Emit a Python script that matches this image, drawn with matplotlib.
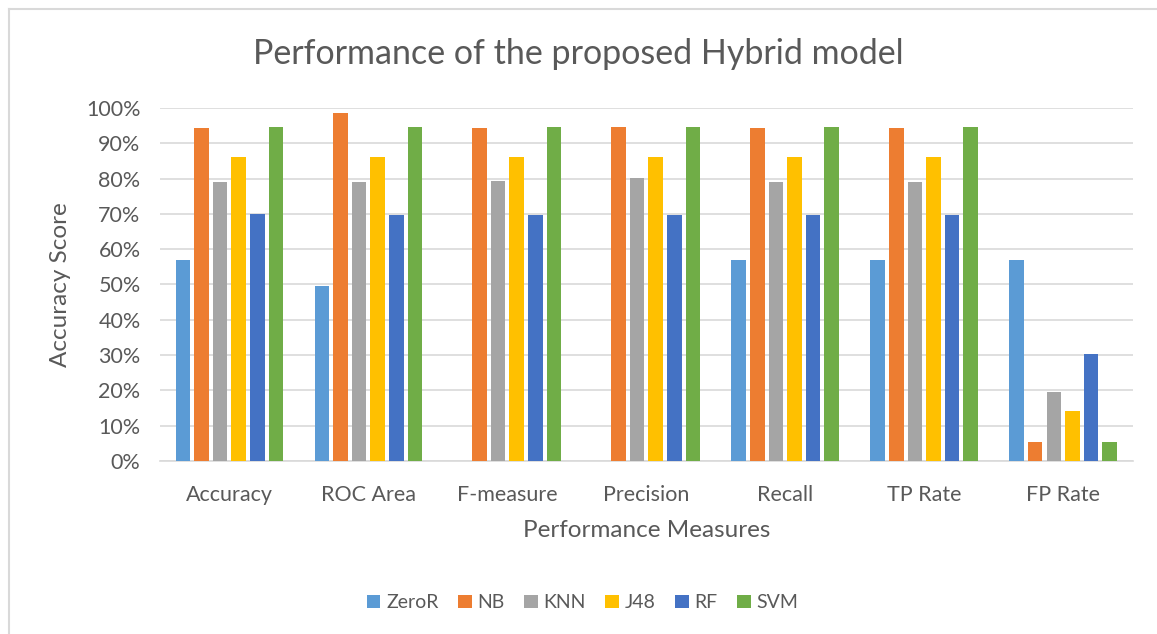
import matplotlib.pyplot as plt
import numpy as np
from matplotlib.ticker import PercentFormatter
from matplotlib.lines import Line2D

plt.rcParams['font.family'] = ['Lato', 'DejaVu Sans']

# Data (fractions)
measures = ['Accuracy', 'ROC Area', 'F-measure', 'Precision', 'Recall', 'TP Rate', 'FP Rate']
models = ['ZeroR', 'NB', 'KNN', 'J48', 'RF', 'SVM']
zeror = [0.57, 0.497, 0.0, 0.0, 0.57, 0.57, 0.57]
nb = [0.943, 0.986, 0.943, 0.946, 0.943, 0.943, 0.054]
knn = [0.791, 0.791, 0.794, 0.802, 0.791, 0.791, 0.196]
j48 = [0.86, 0.86, 0.86, 0.86, 0.86, 0.86, 0.142]
rf = [0.70, 0.697, 0.697, 0.697, 0.697, 0.697, 0.303]
svm = [0.946, 0.946, 0.946, 0.946, 0.946, 0.946, 0.054]

series = [zeror, nb, knn, j48, rf, svm]
colors = ['#5B9BD5', '#ED7D31', '#A5A5A5', '#FFC000', '#4472C4', '#70AD47']
text_col = '#595959'
grid_col = '#D9D9D9'

fig = plt.figure(figsize=(11.57, 6.34), dpi=100)
ax = fig.add_axes([0.1383, 0.2729, 0.8406, 0.5568])

x = np.arange(len(measures))
pitch = 0.134
width = 0.105
for i, (vals, name, c) in enumerate(zip(series, models, colors)):
    ax.bar(x + (i - 2.5) * pitch, vals, width, color=c, label=name, zorder=3)

ax.set_xlim(-0.5, len(measures) - 0.5)
ax.set_ylim(0, 1.0)
ax.set_yticks(np.arange(0, 1.01, 0.1))
ax.yaxis.set_major_formatter(PercentFormatter(1.0, decimals=0))
ax.set_xticks(x)
ax.set_xticklabels(measures)
ax.grid(axis='y', color=grid_col, linewidth=1.2, zorder=0)
for s in ['top', 'right', 'left']:
    ax.spines[s].set_visible(False)
ax.spines['bottom'].set_color(grid_col)
ax.spines['bottom'].set_linewidth(1.2)
ax.tick_params(axis='both', length=0, colors=text_col, labelsize=15.5)
ax.tick_params(axis='x', pad=17)
ax.tick_params(axis='y', pad=14)

ax.set_xlabel('Performance Measures', fontsize=17.5, color=text_col, labelpad=11)
ax.set_ylabel('Accuracy Score', fontsize=17.5, color=text_col, labelpad=11)
fig.suptitle('Performance of the proposed Hybrid model', fontsize=24.5,
             color=text_col, y=0.94)

ax.legend(loc='center', bbox_to_anchor=(0.5035, 0.049), bbox_transform=fig.transFigure,
          ncol=6, frameon=False, fontsize=14, labelcolor=text_col,
          handlelength=0.7, handleheight=0.7, handletextpad=0.3, columnspacing=1.0)

# chart border (top and left visible in the crop)
fig.add_artist(Line2D([9 / 1157, 9 / 1157], [0, 1 - 9 / 634], transform=fig.transFigure,
                      color=grid_col, linewidth=1.5))
fig.add_artist(Line2D([9 / 1157, 1], [1 - 9 / 634, 1 - 9 / 634], transform=fig.transFigure,
                      color=grid_col, linewidth=1.5))

fig.savefig('out.png', dpi=100)
